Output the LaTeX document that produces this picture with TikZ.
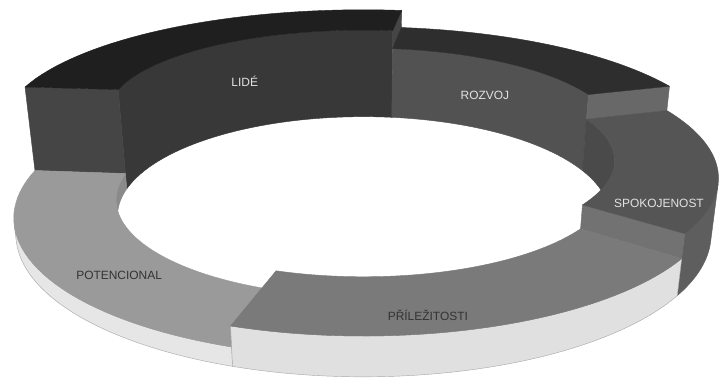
\documentclass[tikz,border=0pt]{standalone}
\usepackage{fontspec}
\setmainfont{Liberation Sans}
\usepackage{tikz}
\usetikzlibrary{calc}
\definecolor{rgLideTop}{HTML}{1F1F1F}
\definecolor{rgLideIn}{HTML}{383838}
\definecolor{rgLideCut}{HTML}{454545}
\definecolor{rgRozTop}{HTML}{2E2E2E}
\definecolor{rgRozIn}{HTML}{525252}
\definecolor{rgRozCut}{HTML}{686868}
\definecolor{rgSpoTop}{HTML}{555555}
\definecolor{rgSpoIn}{HTML}{4A4A4A}
\definecolor{rgSpoOut}{HTML}{5E5E5E}
\definecolor{rgSpoCut}{HTML}{727272}
\definecolor{rgPotTop}{HTML}{9A9A9A}
\definecolor{rgPotIn}{HTML}{8A8A8A}
\definecolor{rgPotOut}{HTML}{E6E6E6}
\definecolor{rgPriTop}{HTML}{7A7A7A}
\definecolor{rgPriOut}{HTML}{E0E0E0}
\definecolor{rgEdge}{HTML}{A8A8A8}
\definecolor{rgLight}{HTML}{E2E2E2}
\definecolor{rgDark}{HTML}{333333}
\def\camD{3.5}
\def\camE{23.3}
\def\camF{1174}
\def\ringIn{.72}
\tikzset{
  ring/.cd, a/.store in=\ringA, r/.store in=\ringR, z/.store in=\ringZ
}
\tikzdeclarecoordinatesystem{ring}{%
  \tikzset{ring/.cd,a=0,r=1,z=0,#1}%
  \pgfmathsetmacro\ringX{\ringR*cos(\ringA)}%
  \pgfmathsetmacro\ringY{\ringR*sin(\ringA)}%
  \pgfmathsetmacro\ringW{\camD+\ringY*cos(\camE)-\ringZ*sin(\camE)}%
  \pgfmathsetmacro\ringU{363.5+\camF*\ringX/\ringW}%
  \pgfmathsetmacro\ringV{186+\camF*(\ringZ*cos(\camE)+\ringY*sin(\camE))/\ringW}%
  \pgfpointxy{\ringU}{\ringV}%
}
\tikzset{
  face/.style={fill=#1, draw=#1, line width=.3pt, line join=round},
  lightface/.style={fill=#1, draw=rgEdge, line width=.3pt, line join=round},
  lbl/.style={font=\fontsize{8.5}{10}\selectfont, inner sep=1pt},
  lbllight/.style={lbl, text=rgLight},
  lbldark/.style={lbl, text=rgDark}
}
\newcommand\ringtop[4]{%
  \filldraw[face=#4] plot[domain=#1:#2] (ring cs:a=\t,r=1,z=#3)
    -- plot[domain=#2:#1] (ring cs:a=\t,r=\ringIn,z=#3) -- cycle;}
\newcommand\ringwall[6][face]{%
  \filldraw[#1=#6] plot[domain=#2:#3] (ring cs:a=\t,r=#4,z=#5)
    -- plot[domain=#3:#2] (ring cs:a=\t,r=#4,z=0) -- cycle;}
\newcommand\ringcut[4]{%
  \filldraw[face=#4] (ring cs:a=#1,r=\ringIn,z=#2) -- (ring cs:a=#1,r=1,z=#2)
    -- (ring cs:a=#1,r=1,z=#3) -- (ring cs:a=#1,r=\ringIn,z=#3) -- cycle;}
\begin{document}
\begin{tikzpicture}[x=0.025cm, y=0.025cm, variable=\t, samples=40]
  \fill[white] (0,0) rectangle (726,383);
  \useasboundingbox (0,0) rectangle (726,383);

  \ringwall{82}{175}{\ringIn}{.315}{rgLideIn}
  \ringcut{175}{.05}{.315}{rgLideCut}
  \ringcut{82}{.251}{.315}{rgLideCut}
  \ringtop{82}{175}{.315}{rgLideTop}

  \ringwall{17}{82}{\ringIn}{.251}{rgRozIn}
  \ringcut{17}{.171}{.251}{rgRozCut}
  \ringtop{17}{82}{.251}{rgRozTop}

  \ringwall{-12.9}{17}{\ringIn}{.171}{rgSpoIn}
  \ringwall{-38.5}{-18.1}{1}{.171}{rgSpoOut}
  \ringcut{-38.5}{.103}{.171}{rgSpoCut}
  \ringtop{-38.5}{17}{.171}{rgSpoTop}

  \ringwall{175}{192.9}{\ringIn}{.05}{rgPotIn}
  \ringwall[lightface]{198.1}{253}{1}{.05}{rgPotOut}
  \ringtop{175}{253}{.05}{rgPotTop}

  \ringwall[lightface]{253}{321.5}{1}{.103}{rgPriOut}
  \ringtop{253}{321.5}{.103}{rgPriTop}

  \node[lbllight] (lide) at (ring cs:a=124,r=\ringIn,z=.17) {LIDÉ};
  \node[lbllight] (rozvoj) at (ring cs:a=55,r=\ringIn,z=.124) {ROZVOJ};
  \node[lbllight] (spokojenost) at (ring cs:a=-30,r=.88,z=.171) {SPOKOJENOST};
  \node[lbldark] (prilezitosti) at (ring cs:a=-81,r=.92,z=.103) {PŘÍLEŽITOSTI};
  \node[lbldark] (potencional) at (ring cs:a=225,r=.86,z=.05) {POTENCIONAL};
\end{tikzpicture}
\end{document}
